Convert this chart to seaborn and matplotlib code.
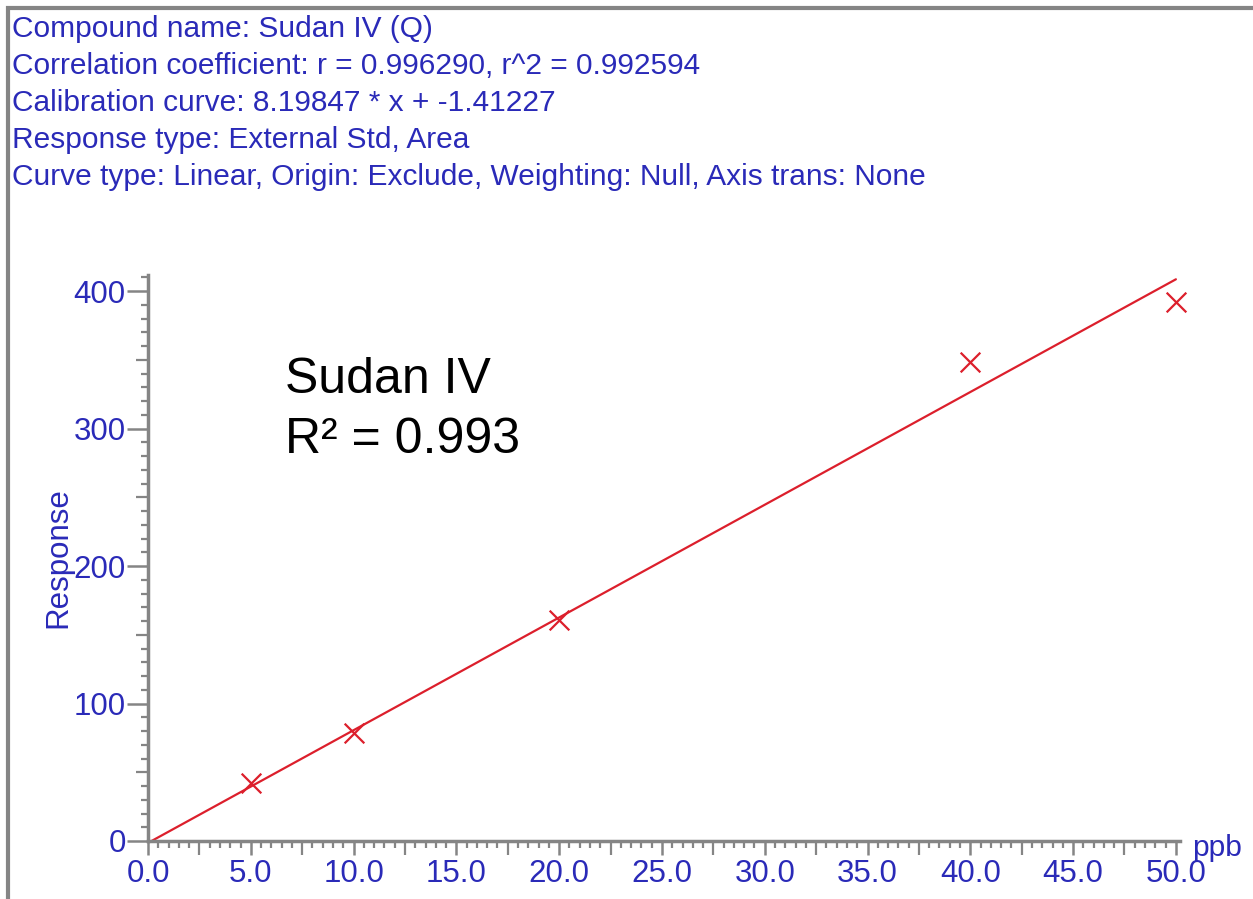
import numpy as np
import pandas as pd
import seaborn as sns
import matplotlib.pyplot as plt
from matplotlib.ticker import MultipleLocator, FuncFormatter
from matplotlib.patches import Rectangle

# dados
conc = [5, 10, 20, 40, 50]
response = [42.0, 78.5, 161.0, 348.5, 392.0]

# curva de calibração informada no cabeçalho
slope = 8.19847
intercept = -1.41227
fit_x = [0, 50]

header = [
    "Compound name: Sudan IV (Q)",
    "Correlation coefficient: r = 0.996290, r^2 = 0.992594",
    "Calibration curve: 8.19847 * x + -1.41227",
    "Response type: External Std, Area",
    "Curve type: Linear, Origin: Exclude, Weighting: Null, Axis trans: None",
]

sns.set_style("white")
plt.rcParams['font.family'] = ['Liberation Sans', 'DejaVu Sans']

blue = '#2a2ab8'
red = '#dc1f2c'
gray = '#858585'

df_pts = pd.DataFrame({'ppb': conc, 'Response': response})
df_fit = pd.DataFrame({'ppb': fit_x, 'Response': [slope * x + intercept for x in fit_x]})

W, H = 1253, 899
fig = plt.figure(figsize=(W / 100, H / 100), dpi=100)
ax = fig.add_axes([148 / W, 58 / H, 1032 / W, 566.5 / H])

sns.lineplot(data=df_fit, x='ppb', y='Response', color=red, linewidth=1.6, ax=ax)
sns.scatterplot(data=df_pts, x='ppb', y='Response', marker='x', s=200, color=red,
                linewidth=1.6, ax=ax, zorder=3, clip_on=False)

ax.set_xlim(0, 50.2)
ax.set_ylim(0, 412)

for s in ['top', 'right']:
    ax.spines[s].set_visible(False)
for s in ['left', 'bottom']:
    ax.spines[s].set_color(gray)
    ax.spines[s].set_linewidth(2.5)

ax.xaxis.set_major_locator(MultipleLocator(5))
ax.xaxis.set_minor_locator(MultipleLocator(0.5))
ax.xaxis.set_major_formatter(FuncFormatter(lambda v, p: f"{v:.1f}"))
ax.yaxis.set_major_locator(MultipleLocator(100))
ax.yaxis.set_minor_locator(MultipleLocator(10))

ax.tick_params(axis='both', which='major', length=10, width=1.8, color=gray,
               labelcolor=blue, labelsize=22.5)
ax.tick_params(axis='both', which='minor', length=5, width=1.6, color=gray)
ax.tick_params(axis='x', which='both', direction='out', bottom=True, pad=3)
ax.tick_params(axis='y', which='both', direction='out', left=True, pad=1)
ax.tick_params(axis='y', which='major', length=15)

# ticks intermediários (2.5 e 50) mais longos
xl = ax.xaxis.get_minorticklocs()
for t, v in zip(ax.xaxis.get_minor_ticks(len(xl)), xl):
    if abs(v / 2.5 - round(v / 2.5)) < 1e-6:
        t.tick1line.set_markersize(10)
yl = ax.yaxis.get_minorticklocs()
for t, v in zip(ax.yaxis.get_minor_ticks(len(yl)), yl):
    if abs(v / 50 - round(v / 50)) < 1e-6:
        t.tick1line.set_markersize(9)

ax.set_xlabel('')
ax.set_ylabel('Response', color=blue, fontsize=22.5)
ax.yaxis.set_label_coords(-0.072, 0.5)
ax.text(1.012, -0.012, 'ppb', transform=ax.transAxes, color=blue, fontsize=21.5,
        ha='left', va='center')

ax.text(285 / W, 1 - 393 / H, 'Sudan IV', transform=fig.transFigure,
        fontsize=36, color='black', ha='left', va='baseline')
ax.text(285 / W, 1 - 453 / H, 'R² = 0.993', transform=fig.transFigure,
        fontsize=36, color='black', ha='left', va='baseline')

for i, line in enumerate(header):
    fig.text(12 / W, 1 - (37 + 37 * i) / H, line, color=blue, fontsize=21.5,
             ha='left', va='baseline')

# moldura (só as bordas de cima e da esquerda aparecem)
fig.patches.append(Rectangle((8 / W, -0.05), 1.1, 1.05 - 8 / H, transform=fig.transFigure,
                             fill=False, edgecolor=gray, linewidth=3))

fig.savefig('out.png', dpi=100)
